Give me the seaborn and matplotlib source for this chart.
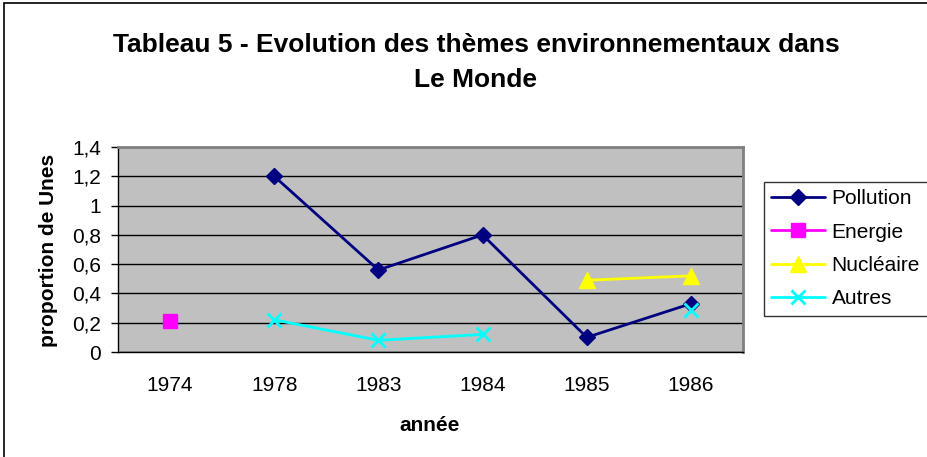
import numpy as np
import matplotlib
matplotlib.use("Agg")
import matplotlib.pyplot as plt
from matplotlib.lines import Line2D
from matplotlib.patches import Rectangle
from matplotlib.ticker import FuncFormatter, FixedLocator
import seaborn as sns

# data (nan = no value for that year)
annees = ["1974", "1978", "1983", "1984", "1985", "1986"]
pollution = [np.nan, 1.2, 0.56, 0.8, 0.1, 0.33]
energie = [0.21, np.nan, np.nan, np.nan, np.nan, np.nan]
nucleaire = [np.nan, np.nan, np.nan, np.nan, 0.49, 0.52]
autres = [np.nan, 0.22, 0.08, 0.12, np.nan, 0.29]

series = [
    ("Pollution", pollution, "#000080", "D", 8, 1),
    ("Energie", energie, "#FF00FF", "s", 10.5, 1),
    ("Nucléaire", nucleaire, "#FFFF00", "^", 11.5, 1),
    ("Autres", autres, "#00FFFF", "x", 10.5, 2),
]

sns.set_style("white")
plt.rcParams["font.family"] = ["Liberation Sans", "DejaVu Sans"]
for k in ["text.color", "axes.labelcolor", "xtick.color", "ytick.color"]:
    plt.rcParams[k] = "black"

fig = plt.figure(figsize=(9.28, 4.57), dpi=100)
ax = fig.add_axes([118 / 928, 1 - 352 / 457, 625 / 928, 205 / 457])
ax.set_facecolor("#C0C0C0")

pos = np.arange(len(annees))
handles = []
for name, vals, col, mk, ms, mew in series:
    vals = np.asarray(vals, dtype=float)
    ok = ~np.isnan(vals)
    # split into runs of consecutive values so gaps are not bridged
    runs = np.split(pos[ok], np.where(np.diff(pos[ok]) != 1)[0] + 1)
    for run in runs:
        sns.lineplot(x=pos[run], y=vals[run], color=col, marker=mk,
                     markersize=ms, markeredgecolor=col, markeredgewidth=mew,
                     linewidth=2, ax=ax, legend=False, zorder=3)
    handles.append(Line2D([], [], color=col, marker=mk, markersize=ms,
                          markeredgecolor=col, markeredgewidth=mew,
                          linewidth=2, label=name))

ax.set_xlim(-0.5, len(annees) - 0.5)
ax.set_ylim(0, 1.4)
ax.set_yticks(np.arange(0, 1.41, 0.2))
ax.yaxis.set_major_formatter(FuncFormatter(lambda v, p: f"{v:g}".replace(".", ",")))
ax.yaxis.grid(True, color="black", linewidth=1)
ax.set_axisbelow(True)

ax.set_xticks(pos)
ax.set_xticklabels(annees)
ax.xaxis.set_minor_locator(FixedLocator(np.arange(-0.5, len(annees), 1)))
ax.tick_params(axis="x", which="major", length=0, pad=17, labelsize=15)
ax.tick_params(axis="x", which="minor", length=5, width=1, color="black", direction="out")
ax.tick_params(axis="y", length=5, width=1, color="black", direction="out", pad=7, labelsize=15)
ax.tick_params(left=True, bottom=True)

for s in ["top", "right"]:
    ax.spines[s].set_color("#808080")
    ax.spines[s].set_linewidth(2)
for s in ["left", "bottom"]:
    ax.spines[s].set_color("black")
    ax.spines[s].set_linewidth(1)

ax.set_xlabel("")
ax.set_ylabel("")
fig.text(430 / 928, 1 - 431 / 457, "année", ha="center", va="baseline",
         fontsize=15, fontweight="bold")
fig.text(49 / 928, 1 - 250 / 457, "proportion de Unes", ha="center", va="center",
         rotation=90, fontsize=15, fontweight="bold")

fig.text(476 / 928, 1 - 52 / 457, "Tableau 5 - Evolution des thèmes environnementaux dans",
         ha="center", va="baseline", fontsize=19, fontweight="bold")
fig.text(476 / 928, 1 - 87 / 457, "Le Monde",
         ha="center", va="baseline", fontsize=19, fontweight="bold")

leg = fig.legend(handles=handles, loc="upper left", bbox_to_anchor=(764 / 928, 1 - 182 / 457),
                 fontsize=15, frameon=True, fancybox=False, handlelength=2.55,
                 labelspacing=0.68, borderpad=0.36, handletextpad=0.34, borderaxespad=0)
leg.get_frame().set_edgecolor("black")
leg.get_frame().set_linewidth(1)

# outer chart border
fig.patches.append(Rectangle((4 / 928, -0.1), 2, 1 - 3 / 457 + 0.1, transform=fig.transFigure,
                             fill=False, edgecolor="black", linewidth=1.2))

fig.savefig("out.png", dpi=100)
